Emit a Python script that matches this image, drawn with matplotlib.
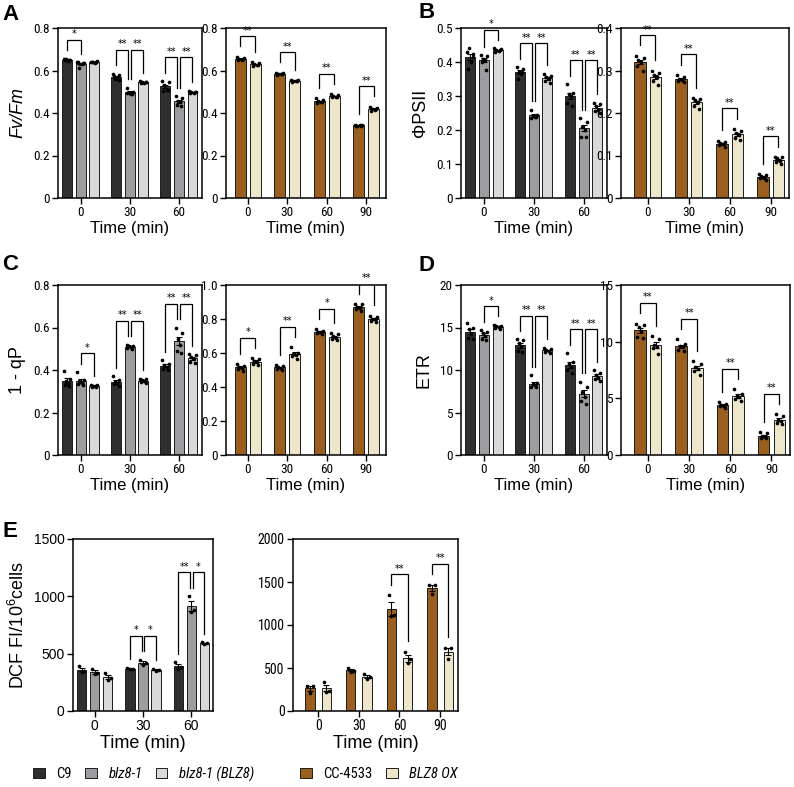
import numpy as np
import matplotlib
matplotlib.use('Agg')
import matplotlib.pyplot as plt
from matplotlib.patches import Patch

plt.rcParams['font.family'] = ['Liberation Sans', 'DejaVu Sans']
plt.rcParams['mathtext.fontset'] = 'custom'
plt.rcParams['mathtext.rm'] = 'Liberation Sans'
plt.rcParams['mathtext.it'] = 'Liberation Sans:italic'
NARROW = ['Roboto Condensed', 'Liberation Sans Narrow', 'Liberation Sans', 'DejaVu Sans']

# ---------------- data ----------------
times_left = ['0', '30', '60']
times_right = ['0', '30', '60', '90']
strains_left = ['C9', 'blz8-1', 'blz8-1 (BLZ8)']
strains_right = ['CC-4533', 'BLZ8 OX']

# A: Fv/Fm  (points per time point)
fvfm_c9 = [[0.655, 0.648, 0.652, 0.645, 0.650, 0.650],
           [0.585, 0.580, 0.560, 0.565, 0.575, 0.555],
           [0.550, 0.545, 0.530, 0.510, 0.505, 0.510]]
fvfm_blz = [[0.640, 0.636, 0.612, 0.630, 0.638, 0.636],
            [0.520, 0.500, 0.495, 0.490, 0.492, 0.491],
            [0.480, 0.470, 0.455, 0.450, 0.440, 0.435]]
fvfm_comp = [[0.642, 0.645, 0.638, 0.636, 0.640, 0.639],
             [0.550, 0.548, 0.545, 0.542, 0.540, 0.545],
             [0.505, 0.500, 0.498, 0.495, 0.492, 0.498]]
fvfm_cc = [[0.665, 0.660, 0.655, 0.650, 0.648, 0.652],
           [0.590, 0.588, 0.585, 0.582, 0.580, 0.585],
           [0.470, 0.460, 0.455, 0.450, 0.445, 0.450],
           [0.345, 0.343, 0.340, 0.342, 0.341, 0.341]]
fvfm_ox = [[0.640, 0.635, 0.630, 0.625, 0.622, 0.628],
           [0.556, 0.554, 0.552, 0.550, 0.548, 0.552],
           [0.488, 0.485, 0.480, 0.476, 0.475, 0.476],
           [0.430, 0.425, 0.420, 0.415, 0.410, 0.420]]
fvfm_sig_left = [[(0, 1, '*')], [(0, 1, '**'), (1, 2, '**')], [(0, 1, '**'), (1, 2, '**')]]
fvfm_sig_right = ['**', '**', '**', '**']

# B: PhiPSII
phi_c9 = [[0.430, 0.425, 0.440, 0.400, 0.380, 0.415],
          [0.385, 0.380, 0.370, 0.365, 0.350, 0.370],
          [0.335, 0.310, 0.305, 0.300, 0.280, 0.270]]
phi_blz = [[0.420, 0.418, 0.410, 0.405, 0.400, 0.377],
           [0.260, 0.245, 0.240, 0.238, 0.236, 0.239],
           [0.235, 0.225, 0.210, 0.200, 0.180, 0.180]]
phi_comp = [[0.440, 0.438, 0.435, 0.432, 0.430, 0.435],
            [0.365, 0.360, 0.355, 0.350, 0.345, 0.337],
            [0.280, 0.275, 0.270, 0.260, 0.255, 0.250]]
phi_cc = [[0.335, 0.330, 0.325, 0.320, 0.310, 0.300],
          [0.290, 0.285, 0.280, 0.278, 0.275, 0.272],
          [0.135, 0.132, 0.130, 0.127, 0.125, 0.119],
          [0.056, 0.055, 0.052, 0.048, 0.046, 0.043]]
phi_ox = [[0.300, 0.295, 0.290, 0.285, 0.275, 0.265],
          [0.235, 0.233, 0.230, 0.225, 0.217, 0.210],
          [0.163, 0.158, 0.152, 0.148, 0.142, 0.137],
          [0.097, 0.096, 0.093, 0.088, 0.085, 0.081]]
phi_sig_left = [[(1, 2, '*')], [(0, 1, '**'), (1, 2, '**')], [(0, 1, '**'), (1, 2, '**')]]
phi_sig_right = ['**', '**', '**', '**']

# C: 1 - qP
qp_c9 = [[0.395, 0.360, 0.350, 0.340, 0.330, 0.325],
         [0.370, 0.355, 0.345, 0.340, 0.335, 0.325],
         [0.445, 0.430, 0.425, 0.415, 0.405, 0.400]]
qp_blz = [[0.390, 0.355, 0.350, 0.340, 0.335, 0.330],
          [0.520, 0.515, 0.512, 0.508, 0.505, 0.500],
          [0.600, 0.575, 0.545, 0.520, 0.490, 0.480]]
qp_comp = [[0.330, 0.328, 0.326, 0.324, 0.322, 0.320],
           [0.360, 0.356, 0.352, 0.348, 0.344, 0.340],
           [0.475, 0.470, 0.460, 0.450, 0.440, 0.435]]
qp_cc = [[0.535, 0.525, 0.518, 0.510, 0.505, 0.497],
         [0.530, 0.525, 0.515, 0.510, 0.508, 0.502],
         [0.740, 0.730, 0.725, 0.722, 0.720, 0.713],
         [0.890, 0.888, 0.870, 0.865, 0.860, 0.847]]
qp_ox = [[0.570, 0.565, 0.555, 0.545, 0.535, 0.530],
         [0.635, 0.600, 0.595, 0.590, 0.585, 0.565],
         [0.715, 0.710, 0.700, 0.690, 0.680, 0.675],
         [0.820, 0.810, 0.800, 0.800, 0.790, 0.780]]
qp_sig_left = [[(1, 2, '*')], [(0, 1, '**'), (1, 2, '**')], [(0, 1, '**'), (1, 2, '**')]]
qp_sig_right = ['*', '**', '*', '**']

# D: ETR
etr_c9 = [[15.5, 15.0, 14.8, 14.2, 13.8, 13.7],
          [13.6, 13.5, 13.2, 12.8, 12.2, 12.1],
          [12.0, 11.0, 10.7, 10.3, 10.0, 9.6]]
etr_blz = [[14.7, 14.5, 14.3, 14.0, 13.6, 13.5],
           [9.4, 8.5, 8.3, 8.2, 8.0, 8.0],
           [8.6, 8.0, 7.4, 6.8, 6.4, 6.0]]
etr_comp = [[15.3, 15.2, 15.15, 15.1, 15.0, 14.85],
            [12.6, 12.5, 12.4, 12.2, 12.1, 12.0],
            [10.0, 9.6, 9.4, 9.1, 9.0, 8.7]]
etr_cc = [[11.6, 11.5, 11.3, 10.9, 10.4, 10.3],
          [10.2, 9.8, 9.6, 9.5, 9.3, 9.2],
          [4.7, 4.5, 4.4, 4.35, 4.3, 4.15],
          [2.0, 1.9, 1.7, 1.6, 1.5, 1.5]]
etr_ox = [[10.5, 10.2, 9.7, 9.5, 9.4, 8.9],
          [8.3, 8.0, 7.8, 7.6, 7.4, 7.1],
          [5.8, 5.4, 5.2, 5.1, 4.9, 4.8],
          [3.6, 3.4, 3.1, 3.0, 2.8, 2.7]]
etr_sig_left = [[(1, 2, '*')], [(0, 1, '**'), (1, 2, '**')], [(0, 1, '**'), (1, 2, '**')]]
etr_sig_right = ['**', '**', '**', '**']

# E: DCF FI / 10^6 cells
dcf_c9 = [[390, 350, 340], [375, 370, 365], [425, 380, 365]]
dcf_blz = [[365, 335, 320], [445, 415, 400], [1000, 885, 860]]
dcf_comp = [[330, 285, 270], [370, 360, 350], [600, 590, 580]]
dcf_cc = [[295, 290, 210], [500, 470, 455], [1350, 1120, 1100], [1470, 1465, 1355]]
dcf_ox = [[340, 235, 220], [430, 395, 375], [690, 600, 555], [735, 730, 605]]
dcf_sig_left = [[], [(0, 1, '*'), (1, 2, '*')], [(0, 1, '**'), (1, 2, '*')]]
dcf_sig_right = ['', '', '**', '**']

# ---------------- style ----------------
COL_LEFT = ['#2f2f2f', '#9d9da1', '#d9d9d9']
COL_RIGHT = ['#9a5e1e', '#eee6ca']
W, H = 794, 787
fig = plt.figure(figsize=(W / 100, H / 100), dpi=100)


def add_ax(x0, y0, x1, y1):
    return fig.add_axes([x0 / W, 1 - y1 / H, (x1 - x0) / W, (y1 - y0) / H])


JIT6 = np.array([-0.32, 0.32, -0.12, 0.12, -0.24, 0.24])
JIT3 = np.array([-0.3, 0.3, 0.0])


def panel(ax, series, colors, offsets, width, ymax, yticks, ylabels, xlabels,
          xlim, sig_left=None, sig_right=None, tickfont=NARROW, ticksize=9.5):
    ng = len(series[0])
    pts_max = []
    for si, pts in enumerate(series):
        means = np.array([np.mean(p) for p in pts])
        sems = np.array([np.std(p, ddof=1) / np.sqrt(len(p)) for p in pts])
        x = np.arange(ng) + offsets[si]
        ax.bar(x, means, width, color=colors[si], edgecolor='#1c1c1c', lw=0.7, zorder=2)
        ax.errorbar(x, means, yerr=sems, fmt='none', ecolor='k', elinewidth=0.8,
                    capsize=2.2, capthick=0.8, zorder=3)
        pm = []
        for gi, p in enumerate(pts):
            jit = (JIT6 if len(p) == 6 else JIT3)[:len(p)] * width
            ax.scatter(x[gi] + jit, p, s=7, color='k', zorder=4, linewidths=0)
            pm.append(max(max(p), means[gi] + sems[gi]))
        pts_max.append(pm)

    def bracket(xa, xb, ytop, ya, yb, lab):
        ax.plot([xa, xa, xb, xb], [ya, ytop, ytop, yb], color='k', lw=0.9,
                zorder=5, solid_joinstyle='miter')
        ax.text((xa + xb) / 2, ytop + 0.004 * ymax, lab, ha='center', va='bottom',
                fontsize=7, family='DejaVu Sans')

    if sig_left is not None:
        for g, comps in enumerate(sig_left):
            if not comps:
                continue
            inv = sorted({i for c in comps for i in c[:2]})
            top = max(pts_max[i][g] for i in inv) + (0.14 if len(comps) > 1 else 0.11) * ymax
            d = 0.03
            for (a, b, lab) in comps:
                xa = g + offsets[a]
                xb = g + offsets[b]
                if len(comps) > 1:
                    if a == 1:
                        xa += d
                    if b == 1:
                        xb -= d
                ya = min(pts_max[a][g] + 0.05 * ymax, top)
                yb = min(pts_max[b][g] + 0.05 * ymax, top)
                bracket(xa, xb, top, ya, yb, lab)
    if sig_right is not None:
        for g, lab in enumerate(sig_right):
            if not lab:
                continue
            top = max(pts_max[0][g], pts_max[1][g]) + 0.12 * ymax
            ya = min(pts_max[0][g] + 0.06 * ymax, top)
            yb = min(pts_max[1][g] + 0.06 * ymax, top)
            bracket(g + offsets[0], g + offsets[1], top, ya, yb, lab)

    ax.set_ylim(0, ymax)
    ax.set_xlim(*xlim)
    ax.set_yticks(yticks)
    ax.set_yticklabels(ylabels, family=tickfont, fontsize=ticksize)
    ax.set_xticks(np.arange(ng))
    ax.set_xticklabels(xlabels, family=tickfont, fontsize=ticksize)
    ax.tick_params(direction='out', length=4, width=1.0, pad=2, color='k')
    for s in ax.spines.values():
        s.set_linewidth(1.1)
        s.set_color('k')
    ax.set_xlabel('Time (min)', fontsize=12, labelpad=1)


sl = [-0.275, 0.0, 0.275]
sr = [-0.19, 0.19]
wl, wr = 0.2, 0.28

# A
axA1 = add_ax(58, 28, 202, 198)
panel(axA1, [fvfm_c9, fvfm_blz, fvfm_comp], COL_LEFT, sl, wl, 0.8,
      [0, 0.2, 0.4, 0.6, 0.8], ['0', '0.2', '0.4', '0.6', '0.8'], times_left,
      (-0.46, 2.47), sig_left=fvfm_sig_left)
axA1.set_ylabel('Fv/Fm', fontsize=13, fontstyle='italic', labelpad=5)
axA2 = add_ax(226, 28, 386, 198)
panel(axA2, [fvfm_cc, fvfm_ox], COL_RIGHT, sr, wr, 0.8,
      [0, 0.2, 0.4, 0.6, 0.8], ['0', '0.2', '0.4', '0.6', '0.8'], times_right,
      (-0.55, 3.5), sig_right=fvfm_sig_right)

# B
axB1 = add_ax(461, 28, 607, 198)
panel(axB1, [phi_c9, phi_blz, phi_comp], COL_LEFT, sl, wl, 0.5,
      [0, 0.1, 0.2, 0.3, 0.4, 0.5], ['0', '0.1', '0.2', '0.3', '0.4', '0.5'], times_left,
      (-0.46, 2.47), sig_left=phi_sig_left)
axB1.set_ylabel('\u03a6PSII', fontsize=13, labelpad=5)
axB2 = add_ax(621, 28, 789, 198)
panel(axB2, [phi_cc, phi_ox], COL_RIGHT, sr, wr, 0.4,
      [0, 0.1, 0.2, 0.3, 0.4], ['0', '0.1', '0.2', '0.3', '0.4'], times_right,
      (-0.65, 3.45), sig_right=phi_sig_right)

# C
axC1 = add_ax(58, 285, 202, 455)
panel(axC1, [qp_c9, qp_blz, qp_comp], COL_LEFT, sl, wl, 0.8,
      [0, 0.2, 0.4, 0.6, 0.8], ['0', '0.2', '0.4', '0.6', '0.8'], times_left,
      (-0.46, 2.47), sig_left=qp_sig_left)
axC1.set_ylabel('1 - qP', fontsize=13, labelpad=5)
axC2 = add_ax(226, 285, 386, 455)
panel(axC2, [qp_cc, qp_ox], COL_RIGHT, sr, wr, 1.0,
      [0, 0.2, 0.4, 0.6, 0.8, 1.0], ['0', '0.2', '0.4', '0.6', '0.8', '1.0'], times_right,
      (-0.55, 3.5), sig_right=qp_sig_right)

# D
axD1 = add_ax(461, 285, 607, 455)
panel(axD1, [etr_c9, etr_blz, etr_comp], COL_LEFT, sl, wl, 20,
      [0, 5, 10, 15, 20], ['0', '5', '10', '15', '20'], times_left,
      (-0.46, 2.47), sig_left=etr_sig_left)
axD1.set_ylabel('ETR', fontsize=13, labelpad=5)
axD2 = add_ax(621, 285, 790, 455)
panel(axD2, [etr_cc, etr_ox], COL_RIGHT, sr, wr, 15,
      [0, 5, 10, 15], ['0', '5', '10', '15'], times_right,
      (-0.65, 3.45), sig_right=etr_sig_right)

# E
axE1 = add_ax(73, 539, 213, 711)
panel(axE1, [dcf_c9, dcf_blz, dcf_comp], COL_LEFT, [-0.27, 0.0, 0.27], 0.19, 1500,
      [0, 500, 1000, 1500], ['0', '500', '1000', '1500'], times_left,
      (-0.45, 2.45), sig_left=dcf_sig_left, tickfont=['Liberation Sans', 'DejaVu Sans'],
      ticksize=10)
axE1.set_ylabel('DCF FI/10$^6$cells', fontsize=13, labelpad=4)
axE1.xaxis.label.set_fontsize(13)
axE2 = add_ax(293, 539, 458, 711)
panel(axE2, [dcf_cc, dcf_ox], COL_RIGHT, [-0.2, 0.2], 0.23, 2000,
      [0, 500, 1000, 1500, 2000], ['0', '500', '1000', '1500', '2000'], times_right,
      (-0.62, 3.44), sig_right=dcf_sig_right, ticksize=10)
axE2.xaxis.label.set_fontsize(13)

# panel letters
for lab, (px, py) in {'A': (2, 20), 'B': (418, 18), 'C': (2, 270), 'D': (419, 271),
                      'E': (2, 537)}.items():
    fig.text(px / W, 1 - py / H, lab, fontsize=16, fontweight='bold', ha='left',
             va='baseline')

# legends
h1 = [Patch(facecolor=c, edgecolor='#1c1c1c', lw=0.7) for c in COL_LEFT]
leg1 = fig.legend(h1, strains_left, loc='center left', bbox_to_anchor=(20 / W, 1 - 774 / H),
                  ncol=3, frameon=False, handlelength=0.8, handleheight=0.65,
                  handletextpad=0.8, columnspacing=0.9,
                  prop={'family': NARROW, 'size': 10.5})
for t in leg1.get_texts()[1:]:
    t.set_fontstyle('italic')
h2 = [Patch(facecolor=c, edgecolor='#1c1c1c', lw=0.7) for c in COL_RIGHT]
leg2 = fig.legend(h2, strains_right, loc='center left', bbox_to_anchor=(287 / W, 1 - 774 / H),
                  ncol=2, frameon=False, handlelength=0.8, handleheight=0.65,
                  handletextpad=0.8, columnspacing=0.9,
                  prop={'family': NARROW, 'size': 10.5})
leg2.get_texts()[1].set_fontstyle('italic')

fig.savefig('out.png', dpi=100)
